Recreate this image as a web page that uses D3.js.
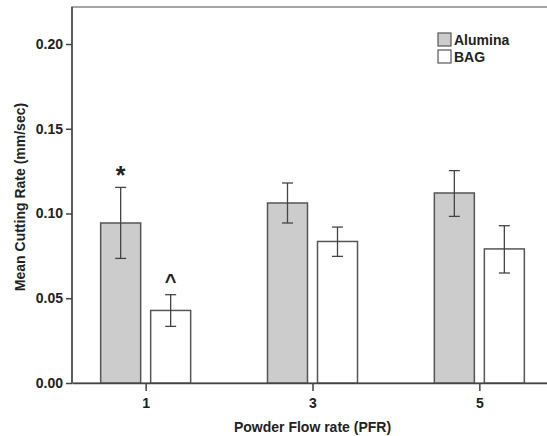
<!DOCTYPE html>
<html>
<head>
<meta charset="utf-8">
<script src="https://cdn.jsdelivr.net/npm/d3@7"></script>
<style>
  body { margin: 0; background: #fff; }
  text { font-family: "Liberation Sans", Arial, sans-serif; fill: #222; }
</style>
</head>
<body>
<script>
// data (means and error bar ends)
const pfr = ["1", "3", "5"];
const series = ["Alumina", "BAG"];
const aluminaMean = [0.0944, 0.1062, 0.1121];
const aluminaLow = [0.0735, 0.0944, 0.0983];
const aluminaHigh = [0.1154, 0.1180, 0.1253];
const bagMean = [0.0428, 0.0835, 0.0791];
const bagLow = [0.0334, 0.0747, 0.0649];
const bagHigh = [0.0521, 0.0920, 0.0928];
const yTicks = [0, 0.05, 0.10, 0.15, 0.20];
// significance marks: [series, pfr, symbol]
const marks = [["Alumina", "1", "*"], ["BAG", "1", "^"]];

const fills = { Alumina: "#cccccc", BAG: "#ffffff" };

//---- drawing parameters
const width = 547, height = 436;
const plotLeft = 72, plotRight = 553, plotTop = 7, plotBottom = 383;

// build rows for the bars
let rows = [];
pfr.forEach((p, i) => {
  rows.push({ s: "Alumina", p: p, mean: aluminaMean[i], lo: aluminaLow[i], hi: aluminaHigh[i] });
  rows.push({ s: "BAG", p: p, mean: bagMean[i], lo: bagLow[i], hi: bagHigh[i] });
});

const svg = d3.select("body").append("svg")
  .attr("width", width)
  .attr("height", height);

const x = d3.scalePoint().domain(pfr).range([plotLeft, plotRight]).padding(0.4415);
const xs = d3.scaleBand().domain(series).range([-45, 45]).paddingInner(0.2);
const y = d3.scaleLinear().domain([0, 0.2]).range([plotBottom, 44]);

// frame (top line, right side falls outside the picture)
svg.append("rect")
  .attr("x", plotLeft).attr("y", plotTop)
  .attr("width", plotRight - plotLeft).attr("height", plotBottom - plotTop)
  .attr("fill", "none")
  .attr("stroke", "#888")
  .attr("stroke-width", 1.5);

// bars
svg.selectAll("rect.bar")
    .data(rows)
    .enter()
  .append("rect")
    .attr("class", "bar")
    .attr("x", d => x(d.p) + xs(d.s))
    .attr("y", d => y(d.mean))
    .attr("width", xs.bandwidth())
    .attr("height", d => y(0) - y(d.mean))
    .attr("fill", d => fills[d.s])
    .attr("stroke", "#555")
    .attr("stroke-width", 1.5);

// error bars
const eb = svg.selectAll("g.err")
    .data(rows)
    .enter()
  .append("g")
    .attr("class", "err")
    .attr("transform", d => `translate(${x(d.p) + xs(d.s) + xs.bandwidth() / 2},0)`)
    .attr("stroke", "#444")
    .attr("stroke-width", 1.3);

eb.append("line")
  .attr("x1", 0).attr("x2", 0)
  .attr("y1", d => y(d.lo)).attr("y2", d => y(d.hi));
eb.append("line")
  .attr("x1", -5.5).attr("x2", 5.5)
  .attr("y1", d => y(d.hi)).attr("y2", d => y(d.hi));
eb.append("line")
  .attr("x1", -5.5).attr("x2", 5.5)
  .attr("y1", d => y(d.lo)).attr("y2", d => y(d.lo));

// significance symbols above the error bars
svg.selectAll("text.mark")
    .data(marks)
    .enter()
  .append("text")
    .attr("class", "mark")
    .attr("x", m => x(m[1]) + xs(m[0]) + xs.bandwidth() / 2)
    .attr("y", m => {
      let r = rows.find(d => d.s === m[0] && d.p === m[1]);
      return y(r.hi) - (m[2] === "*" ? 3 : 7);
    })
    .attr("text-anchor", "middle")
    .attr("font-size", m => m[2] === "*" ? 25 : 20)
    .attr("font-weight", "bold")
    .text(m => m[2]);

// axes
const yAxis = svg.append("g")
  .attr("transform", `translate(${plotLeft},0)`)
  .call(d3.axisLeft(y).tickValues(yTicks).tickFormat(d3.format(".2f")).tickSize(6).tickSizeOuter(0));
const xAxis = svg.append("g")
  .attr("transform", `translate(0,${plotBottom})`)
  .call(d3.axisBottom(x).tickSize(8).tickSizeOuter(0));

[yAxis, xAxis].forEach(a => {
  a.select(".domain").attr("stroke", "#444").attr("stroke-width", 1.5);
  a.selectAll(".tick line").attr("stroke", "#444").attr("stroke-width", 1.5);
  a.selectAll(".tick text")
    .attr("font-size", 14)
    .attr("font-weight", "bold")
    .attr("font-family", "Liberation Sans, Arial, sans-serif")
    .attr("fill", "#222");
});
yAxis.select(".domain").attr("d", `M0,${plotTop}V${plotBottom}`);
yAxis.selectAll(".tick text").attr("x", -9);
xAxis.selectAll(".tick text").attr("y", 15);

// axis titles
svg.append("text")
  .attr("x", x(pfr[1]))
  .attr("y", 432)
  .attr("text-anchor", "middle")
  .attr("font-size", 14)
  .attr("font-weight", "bold")
  .text("Powder Flow rate (PFR)");

svg.append("text")
  .attr("transform", "translate(25,197) rotate(-90)")
  .attr("text-anchor", "middle")
  .attr("font-size", 14)
  .attr("font-weight", "bold")
  .text("Mean Cutting Rate (mm/sec)");

// legend
const legend = svg.selectAll("g.legend")
    .data(series)
    .enter()
  .append("g")
    .attr("class", "legend")
    .attr("transform", (s, i) => `translate(438,${33 + i * 17})`);
legend.append("rect")
  .attr("width", 13).attr("height", 13)
  .attr("fill", s => fills[s])
  .attr("stroke", "#555")
  .attr("stroke-width", 1.2);
legend.append("text")
  .attr("x", 16).attr("y", 12)
  .attr("font-size", 14)
  .attr("font-weight", "bold")
  .text(s => s);
</script>
</body>
</html>
